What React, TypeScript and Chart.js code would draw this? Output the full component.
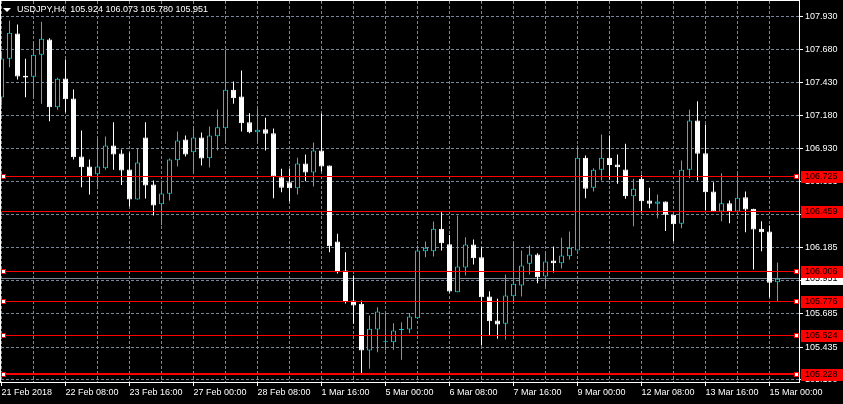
import React, { useEffect, useRef } from 'react';
import { Chart, registerables } from 'chart.js';

Chart.register(...registerables);

// USDJPY H4 candles, 21 Feb 2018 00:00 onward (one value per candle)
const openPrices = [
  107.318, 107.611, 107.802, 107.482, 107.475, 107.641, 107.756, 107.245, 107.462, 107.311,
  106.873, 106.798, 106.740, 106.785, 106.956, 106.896, 106.775, 106.549, 107.017, 106.662,
  106.513, 106.592, 106.845, 107.002, 106.906, 107.017, 106.860, 107.027, 107.087, 107.377,
  107.326, 107.132, 107.057, 107.079, 107.049, 106.717, 106.679, 106.634, 106.820, 106.752,
  106.918, 106.805, 106.232, 106.013, 105.786, 105.761, 105.409, 105.567, 105.472, 105.472,
  105.564, 105.567, 105.653, 106.158, 106.158, 106.328, 106.211, 105.849, 106.036, 106.209,
  106.113, 105.817, 105.635, 105.610, 105.819, 105.900, 106.063, 106.134, 105.967, 106.088,
  106.068, 106.121, 106.164, 106.863, 106.637, 106.773, 106.863, 106.813, 106.775, 106.574,
  106.705, 106.541, 106.516, 106.534, 106.433, 106.365, 106.773, 107.145, 106.898, 106.609,
  106.458, 106.521, 106.458, 106.566, 106.478, 106.328, 106.307, 105.924,
];
const highPrices = [
  107.658, 107.900, 107.870, 107.611, 107.731, 107.890, 107.766, 107.467, 107.605, 107.379,
  107.070, 106.851, 107.007, 107.024, 107.132, 106.926, 106.903, 106.931, 107.132, 106.692,
  106.692, 106.858, 107.062, 107.032, 107.100, 107.054, 107.100, 107.228, 107.679, 107.439,
  107.522, 107.200, 107.238, 107.165, 107.085, 106.780, 106.780, 106.863, 106.888, 106.979,
  107.196, 106.805, 106.290, 106.151, 105.975, 105.786, 105.673, 105.736, 105.686, 105.615,
  105.622, 105.691, 106.201, 106.232, 106.383, 106.453, 106.281, 106.428, 106.264, 106.247,
  106.188, 105.857, 105.799, 105.983, 106.224, 106.164, 106.201, 106.143, 106.151, 106.194,
  106.260, 106.307, 106.956, 106.881, 106.785, 107.039, 107.032, 106.888, 106.969, 106.705,
  106.735, 106.637, 106.586, 106.534, 106.433, 106.843, 107.226, 107.291, 107.115, 106.679,
  106.747, 106.541, 106.747, 106.609, 106.478, 106.385, 106.352, 106.073,
];
const lowPrices = [
  107.258, 107.547, 107.454, 107.321, 107.316, 107.271, 107.140, 107.226, 107.208, 106.851,
  106.641, 106.586, 106.626, 106.773, 106.773, 106.659, 106.498, 106.549, 106.556, 106.428,
  106.355, 106.541, 106.798, 106.873, 106.762, 106.805, 106.790, 106.918, 106.981, 107.271,
  107.062, 107.049, 106.986, 106.918, 106.559, 106.604, 106.536, 106.586, 106.687, 106.647,
  106.762, 106.151, 105.990, 105.763, 105.610, 105.233, 105.271, 105.396, 105.409, 105.414,
  105.339, 105.539, 105.650, 106.113, 106.119, 106.164, 105.847, 105.849, 105.975, 106.058,
  105.447, 105.522, 105.497, 105.492, 105.773, 105.817, 105.983, 105.917, 105.887, 105.998,
  106.028, 106.096, 106.164, 106.558, 106.609, 106.692, 106.697, 106.667, 106.554, 106.347,
  106.453, 106.483, 106.408, 106.310, 106.234, 106.332, 106.709, 106.692, 106.466, 106.458,
  106.385, 106.370, 106.453, 106.302, 106.020, 106.158, 105.811, 105.780,
];
const closePrices = [
  107.613, 107.807, 107.477, 107.470, 107.641, 107.762, 107.245, 107.460, 107.306, 106.868,
  106.792, 106.722, 106.798, 106.956, 106.888, 106.767, 106.549, 106.828, 106.654, 106.503,
  106.594, 106.851, 106.994, 106.888, 107.017, 106.858, 107.032, 107.094, 107.377, 107.313,
  107.125, 107.057, 107.075, 107.045, 106.722, 106.637, 106.634, 106.820, 106.752, 106.918,
  106.798, 106.196, 106.000, 105.773, 105.748, 105.409, 105.573, 105.703, 105.475, 105.560,
  105.571, 105.666, 106.164, 106.184, 106.328, 106.219, 105.854, 106.043, 106.209, 106.105,
  105.811, 105.630, 105.605, 105.824, 105.912, 106.051, 106.134, 105.962, 106.081, 106.068,
  106.126, 106.184, 106.863, 106.630, 106.773, 106.863, 106.810, 106.792, 106.574, 106.630,
  106.536, 106.516, 106.534, 106.433, 106.362, 106.773, 107.145, 106.894, 106.604, 106.458,
  106.521, 106.458, 106.562, 106.473, 106.322, 106.302, 105.920, 105.951,
];

// time axis labels, one every 8 candles (32 hours)
const xTickLabels = [
  '21 Feb 2018', '22 Feb 08:00', '23 Feb 16:00', '27 Feb 00:00', '28 Feb 08:00',
  '1 Mar 16:00', '5 Mar 00:00', '6 Mar 08:00', '7 Mar 16:00', '9 Mar 00:00',
  '12 Mar 08:00', '13 Mar 16:00', '15 Mar 00:00',
];
const yTickValues = [
  105.190, 105.435, 105.685, 105.935, 106.185, 106.433,
  106.683, 106.930, 107.180, 107.430, 107.680, 107.930,
];

// horizontal levels drawn on the chart
const levelPrices = [106.725, 106.459, 106.006, 105.776, 105.524, 105.228];
const levelWidths = [1, 1, 1, 1, 1, 2];
const levelHandles = [true, false, true, true, true, true];
const currentPrice = 105.951;
const titleText = 'USDJPY,H4  105.924 106.073 105.780 105.951';

const BULL = '#00ced1';
const BEAR = '#ffffff';
const GRID = '#778899';
const RED = '#ff0000';
const FONT = '"Liberation Sans", Arial, sans-serif';
const FONT_SIZE = 9;

export default function App() {
  const canvasRef = useRef<HTMLCanvasElement | null>(null);

  useEffect(() => {
    document.body.style.margin = '0';
    document.body.style.background = '#000';
    const canvas = canvasRef.current;
    if (!canvas) return;

    const n = openPrices.length;
    const idx = Array.from({ length: n }, (_, i) => i);
    const isBull = (i: number) => closePrices[i] >= openPrices[i];
    const pick = (ctx: any, bull: string, bear: string) => {
      const i = ctx.dataIndex;
      if (i === undefined || i === null) return bear;
      return isBull(i) ? bull : bear;
    };
    const gridTicks: number[] = [];
    for (let v = 0; v <= 96; v += 4) gridTicks.push(v);

    const fontStr = `${FONT_SIZE}px ${FONT}`;

    const overlay = {
      id: 'mtOverlay',
      beforeDraw(chart: any) {
        const c = chart.ctx;
        c.save();
        c.fillStyle = '#000';
        c.fillRect(0, 0, chart.width, chart.height);
        c.restore();
      },
      beforeDatasetsDraw(chart: any) {
        const { ctx: c, chartArea: a, scales } = chart;
        const y = Math.floor(scales.y.getPixelForValue(currentPrice)) + 0.5;
        c.save();
        c.strokeStyle = GRID;
        c.lineWidth = 1;
        c.beginPath();
        c.moveTo(a.left, y);
        c.lineTo(a.right, y);
        c.stroke();
        c.restore();
      },
      afterDatasetsDraw(chart: any) {
        const { ctx: c, chartArea: a, scales } = chart;
        c.save();
        levelPrices.forEach((p, k) => {
          const raw = scales.y.getPixelForValue(p);
          const w = levelWidths[k];
          const row = Math.floor(raw);
          const y = w % 2 === 1 ? row + 0.5 : Math.round(raw);
          c.strokeStyle = RED;
          c.lineWidth = w;
          c.beginPath();
          c.moveTo(a.left, y);
          c.lineTo(a.right, y);
          c.stroke();
          if (levelHandles[k]) {
            c.lineWidth = 1;
            [a.left + 0.5, a.right - 4.5].forEach((hx) => {
              c.fillStyle = '#fff';
              c.fillRect(hx - 0.5, row - 2, 5, 5);
              c.strokeStyle = RED;
              c.strokeRect(hx, row - 1.5, 4, 4);
            });
          }
        });
        c.restore();
      },
      afterDraw(chart: any) {
        const { ctx: c, chartArea: a, scales } = chart;
        c.save();
        // frame top / left
        c.strokeStyle = '#fff';
        c.lineWidth = 1;
        c.beginPath();
        c.moveTo(0, 0.5);
        c.lineTo(a.right + 1, 0.5);
        c.moveTo(0.5, 0);
        c.lineTo(0.5, a.bottom + 1);
        c.stroke();

        c.font = fontStr;
        c.textBaseline = 'middle';
        c.textAlign = 'left';
        const boxX = a.right + 2;
        const boxW = chart.width - boxX;
        // current price label
        {
          const row = Math.floor(scales.y.getPixelForValue(currentPrice));
          c.fillStyle = '#fff';
          c.fillRect(boxX, row - 5, boxW, 12);
          c.fillStyle = '#000';
          c.fillText(currentPrice.toFixed(3), a.right + 6, row + 1);
        }
        // level labels
        levelPrices.forEach((p) => {
          const row = Math.floor(scales.y.getPixelForValue(p));
          c.fillStyle = RED;
          c.fillRect(boxX, row - 5, boxW, 12);
          c.fillStyle = '#000';
          c.fillText(p.toFixed(3), a.right + 6, row + 1);
        });
        // title
        c.fillStyle = '#fff';
        c.beginPath();
        c.moveTo(3, 8);
        c.lineTo(11, 8);
        c.lineTo(7, 12);
        c.closePath();
        c.fill();
        c.textBaseline = 'alphabetic';
        c.fillText(titleText, 17, 12);
        c.restore();
      },
    };

    const chart = new Chart(canvas, {
      type: 'bar',
      data: {
        datasets: [
          {
            label: 'body',
            data: idx.map((i) => ({ x: i, y: [openPrices[i], closePrices[i]] })) as any,
            grouped: false,
            order: 0,
            maxBarThickness: 5,
            minBarLength: 1,
            inflateAmount: 0,
            borderWidth: 1,
            borderSkipped: false,
            borderColor: (ctx: any) => pick(ctx, BULL, BEAR),
            backgroundColor: (ctx: any) => pick(ctx, '#000000', BEAR),
          } as any,
          {
            label: 'wick',
            data: idx.map((i) => ({ x: i, y: [lowPrices[i], highPrices[i]] })) as any,
            grouped: false,
            order: 1,
            maxBarThickness: 1,
            inflateAmount: 0,
            borderWidth: 0,
            backgroundColor: (ctx: any) => pick(ctx, BULL, BEAR),
          } as any,
        ],
      },
      options: {
        responsive: false,
        maintainAspectRatio: false,
        animation: false,
        devicePixelRatio: 1,
        events: [],
        layout: { padding: { left: 1, top: 1, right: 0, bottom: 0 } },
        plugins: {
          legend: { display: false },
          tooltip: { enabled: false },
          title: { display: false },
        },
        scales: {
          x: {
            type: 'linear',
            bounds: 'data',
            min: -0.0625,
            max: 99.6875,
            offset: false,
            afterFit: (s: any) => {
              s.height = 22;
              s.paddingLeft = 0;
              s.paddingRight = 0;
            },
            afterBuildTicks: (s: any) => {
              s.ticks = gridTicks.map((v) => ({ value: v }));
            },
            grid: {
              offset: false,
              color: GRID,
              lineWidth: 1,
              drawTicks: true,
              tickLength: 4,
              tickWidth: 1,
              tickColor: (ctx: any) =>
                ctx.tick && ctx.tick.value % 8 === 0 ? '#ffffff' : 'rgba(0,0,0,0)',
            },
            border: { display: true, color: '#ffffff', width: 1, dash: [3, 2] },
            ticks: {
              color: '#ffffff',
              align: 'start',
              maxRotation: 0,
              minRotation: 0,
              autoSkip: false,
              padding: 1,
              font: { family: FONT, size: FONT_SIZE },
              callback: (v: any) => {
                const val = Number(v);
                return val % 8 === 0 ? xTickLabels[val / 8] ?? '' : '';
              },
            },
          } as any,
          y: {
            type: 'linear',
            position: 'right',
            bounds: 'data',
            min: 105.1711,
            max: 108.047,
            afterFit: (s: any) => {
              s.width = 44;
              s.paddingTop = 0;
              s.paddingBottom = 0;
            },
            afterBuildTicks: (s: any) => {
              s.ticks = yTickValues.map((v) => ({ value: v }));
            },
            grid: {
              color: GRID,
              lineWidth: 1,
              drawTicks: true,
              tickLength: 4,
              tickWidth: 1,
              tickColor: '#ffffff',
            },
            border: { display: true, color: '#ffffff', width: 1, dash: [3, 2] },
            ticks: {
              color: '#ffffff',
              padding: 2,
              autoSkip: false,
              font: { family: FONT, size: FONT_SIZE },
              callback: (v: any) => Number(v).toFixed(3),
            },
          } as any,
        },
      },
      plugins: [overlay],
    });

    return () => {
      chart.destroy();
    };
  }, []);

  return (
    <canvas
      ref={canvasRef}
      width={843}
      height={404}
      style={{ display: 'block', width: '843px', height: '404px' }}
    />
  );
}
